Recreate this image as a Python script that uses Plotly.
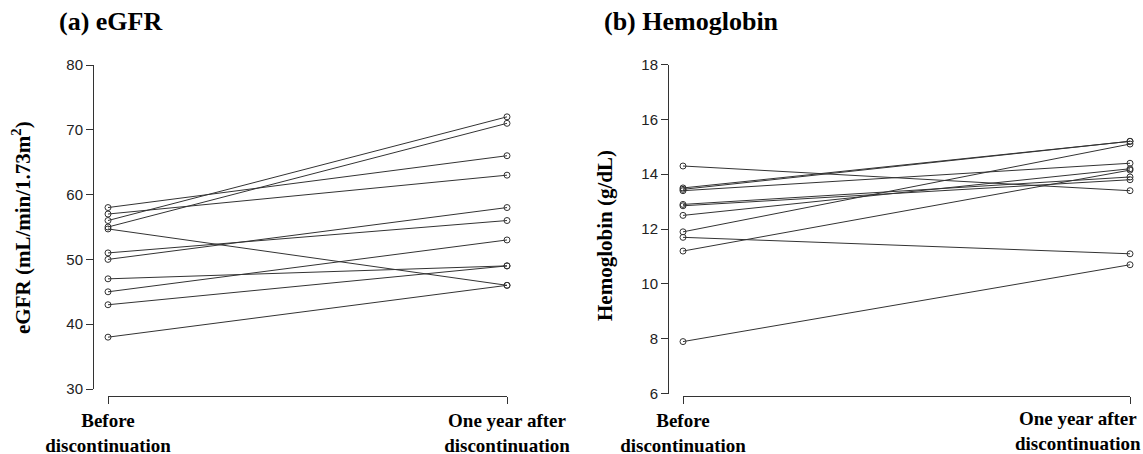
import plotly.graph_objects as go

W, H = 1143, 454

# ---- data ----
label_before = "<b>Before<br>discontinuation</b>"
label_after = "<b>One year after<br>discontinuation</b>"
egfr_before = [58, 57, 56, 55, 54.7, 51, 50, 47, 45, 43, 38]
egfr_after = [66, 63, 72, 71, 46, 56, 58, 49, 53, 49, 46]
hb_before = [14.3, 13.5, 13.45, 13.4, 12.9, 12.85, 12.5, 11.9, 11.7, 11.2, 7.9]
hb_after = [13.4, 15.2, 15.2, 14.4, 13.9, 13.8, 14.2, 15.1, 11.1, 14.15, 10.7]

def px(x):
    return x / W

def py(y):
    return 1 - y / H

LINE = "#333333"
SERIF = "Liberation Serif, Times New Roman, serif"
SANS = "Liberation Sans, Arial, sans-serif"

fig = go.Figure()

for b, a in zip(egfr_before, egfr_after):
    fig.add_trace(go.Scatter(x=[1, 2], y=[b, a], mode="lines+markers",
                             line=dict(color=LINE, width=1),
                             marker=dict(symbol="circle-open", size=6, color=LINE, line=dict(width=1)),
                             cliponaxis=False, showlegend=False, hoverinfo="y",
                             xaxis="x", yaxis="y"))
for b, a in zip(hb_before, hb_after):
    fig.add_trace(go.Scatter(x=[1, 2], y=[b, a], mode="lines+markers",
                             line=dict(color=LINE, width=1),
                             marker=dict(symbol="circle-open", size=6, color=LINE, line=dict(width=1)),
                             cliponaxis=False, showlegend=False, hoverinfo="y",
                             xaxis="x2", yaxis="y2"))

xcommon = dict(range=[1, 2], tickvals=[1, 2], showline=True,
               linecolor=LINE, linewidth=1, ticks="outside", ticklen=7, tickcolor=LINE,
               showgrid=False, zeroline=False, anchor="free", automargin=False,
               ticklabeloverflow="allow",
               tickfont=dict(family=SERIF, size=19, color="black"))
ycommon = dict(showline=True, linecolor=LINE, linewidth=1, ticks="outside", ticklen=7,
               tickcolor=LINE, showgrid=False, zeroline=False, anchor="free", automargin=False,
               tickfont=dict(family=SANS, size=15, color="#222"))

fig.update_layout(
    width=W, height=H, autosize=False,
    margin=dict(l=0, r=0, t=0, b=0, autoexpand=False),
    paper_bgcolor="white", plot_bgcolor="white",
    xaxis=dict(domain=[px(108), px(507)], position=py(396),
               ticktext=[label_before, label_after], **xcommon),
    xaxis2=dict(domain=[px(683), px(1130)], position=py(396),
                ticktext=[label_before, ""], **xcommon),
    yaxis=dict(domain=[py(389), py(65)], range=[30, 80], dtick=10, tick0=30,
               position=px(93), **ycommon),
    yaxis2=dict(domain=[py(393.7), py(64.5)], range=[6, 18], dtick=2, tick0=6,
                position=px(668), **ycommon),
)

annos = [
    dict(text="<b>(a) eGFR</b>", x=px(57), y=py(21), xanchor="left", yanchor="middle",
         font=dict(family=SERIF, size=26, color="black")),
    dict(text="<b>(b) Hemoglobin</b>", x=px(602), y=py(21), xanchor="left", yanchor="middle",
         font=dict(family=SERIF, size=26, color="black")),
    dict(text="<b>eGFR (mL/min/1.73m<sup>2</sup>)</b>", x=px(21), y=py(228), textangle=-90,
         xanchor="center", yanchor="middle", font=dict(family=SERIF, size=21, color="black")),
    dict(text="<b>Hemoglobin (g/dL)</b>", x=px(605), y=py(236), textangle=-90,
         xanchor="center", yanchor="middle", font=dict(family=SERIF, size=21, color="black")),
    # tick label for the right panel's second time point, pulled inside the page edge
    dict(text=label_after, x=px(1142), y=py(455), xanchor="right", yanchor="bottom", align="center",
         borderpad=0, font=dict(family=SERIF, size=19, color="black")),
]
for a in annos:
    a.update(xref="paper", yref="paper", showarrow=False)
fig.update_layout(annotations=annos)

fig.write_html("out.html")
